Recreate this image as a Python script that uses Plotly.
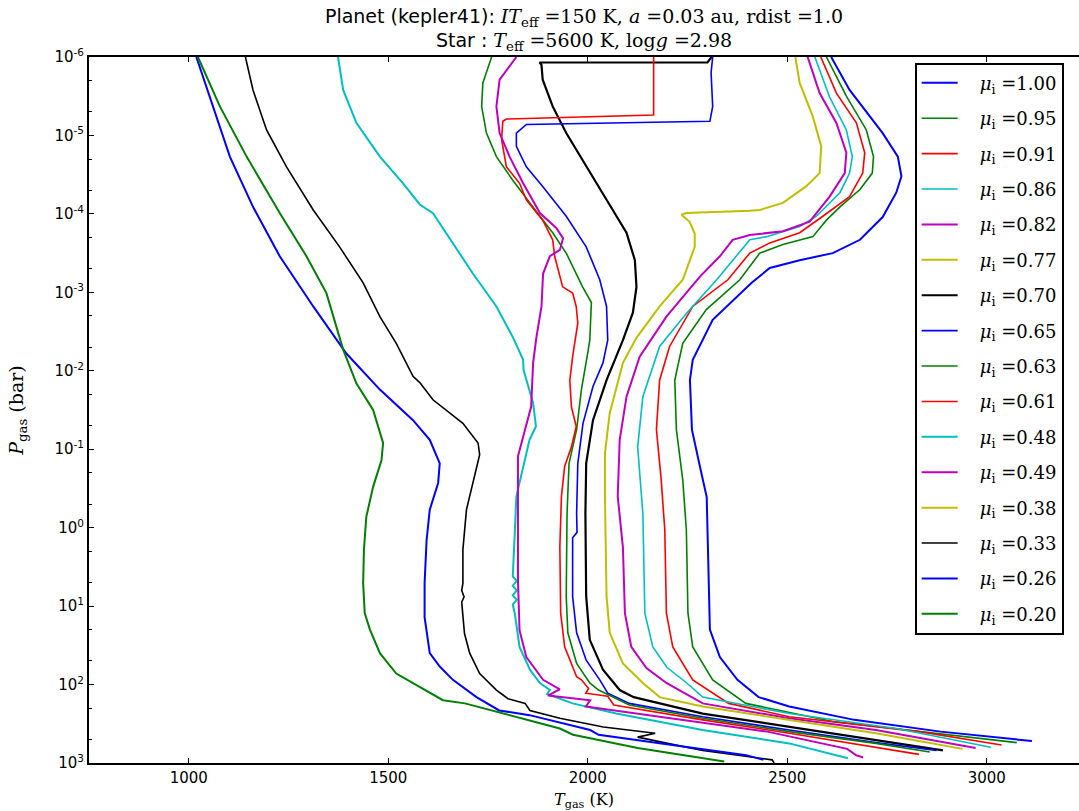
import plotly.graph_objects as go

# ---------------- data (temperature in K, log10 of pressure in bar) ----------------
mu_labels = ["1.00", "0.95", "0.91", "0.86", "0.82", "0.77", "0.70", "0.65",
             "0.63", "0.61", "0.48", "0.49", "0.38", "0.33", "0.26", "0.20"]

T_100 = [2610, 2656, 2739, 2777, 2786, 2773, 2739, 2682, 2614, 2531, 2456, 2410, 2313, 2263, 2256, 2261, 2281, 2298, 2301, 2306, 2331, 2375, 2428, 2505, 2668, 2884, 3113]
L_100 = [-6.0, -5.58, -5.03, -4.73, -4.48, -4.27, -3.96, -3.67, -3.50, -3.41, -3.31, -3.12, -2.65, -2.14, -1.88, -1.25, -0.78, -0.39, 0.24, 1.30, 1.65, 1.94, 2.16, 2.28, 2.45, 2.60, 2.72]

T_095 = [2598, 2648, 2698, 2716, 2713, 2682, 2632, 2598, 2564, 2489, 2431, 2406, 2381, 2297, 2238, 2218, 2222, 2238, 2247, 2251, 2263, 2313, 2396, 2614, 2830, 3075]
L_095 = [-6.0, -5.50, -5.07, -4.73, -4.52, -4.31, -4.09, -3.92, -3.71, -3.61, -3.50, -3.33, -3.16, -2.78, -2.35, -1.88, -1.25, -0.61, 0.03, 1.09, 1.52, 1.94, 2.24, 2.47, 2.60, 2.74]

T_091 = [2584, 2623, 2673, 2694, 2689, 2656, 2589, 2531, 2456, 2406, 2351, 2263, 2205, 2180, 2172, 2184, 2193, 2197, 2213, 2263, 2353, 2505, 2830, 3037]
L_091 = [-6.0, -5.54, -5.16, -4.78, -4.52, -4.22, -3.97, -3.76, -3.63, -3.50, -3.16, -2.82, -2.31, -1.88, -1.25, -0.61, 0.03, 1.09, 1.52, 1.94, 2.24, 2.41, 2.60, 2.77]

T_086 = [2569, 2606, 2648, 2663, 2656, 2632, 2573, 2531, 2448, 2406, 2323, 2247, 2180, 2138, 2125, 2138, 2143, 2163, 2198, 2248, 2288, 2505, 2773, 3010]
L_086 = [-6.0, -5.49, -5.07, -4.73, -4.52, -4.27, -3.97, -3.84, -3.71, -3.67, -3.16, -2.73, -2.31, -1.67, -1.03, -0.18, 1.09, 1.52, 1.78, 1.98, 2.16, 2.37, 2.56, 2.80]

T_082 = [2551, 2581, 2623, 2648, 2644, 2606, 2556, 2489, 2406, 2363, 2331, 2281, 2197, 2130, 2097, 2080, 2075, 2088, 2093, 2109, 2147, 2197, 2288, 2505, 2722, 2972]
L_082 = [-6.0, -5.54, -5.16, -4.78, -4.52, -4.22, -3.90, -3.78, -3.73, -3.67, -3.46, -3.20, -2.69, -2.18, -1.67, -1.12, -0.40, 0.25, 1.09, 1.52, 1.79, 1.98, 2.24, 2.43, 2.58, 2.81]

T_077 = [2520, 2531, 2564, 2585, 2581, 2547, 2489, 2431, 2406, 2247, 2235, 2255, 2268, 2268, 2238, 2180, 2122, 2088, 2055, 2043, 2043, 2047, 2055, 2088, 2138, 2180, 2288, 2505, 2722, 2939]
L_077 = [-6.0, -5.67, -5.24, -4.86, -4.52, -4.35, -4.14, -4.05, -4.04, -4.01, -3.99, -3.90, -3.75, -3.58, -3.16, -2.82, -2.42, -2.10, -1.46, -0.95, -0.40, 0.88, 1.34, 1.73, 1.98, 2.16, 2.28, 2.45, 2.62, 2.82]

T_070 = [2310, 2300, 1879, 1884, 1887, 1912, 1946, 1996, 2047, 2097, 2118, 2122, 2113, 2088, 2047, 2013, 1996, 1994, 1996, 2005, 2038, 2080, 2115, 2288, 2505, 2722, 2890]
L_070 = [-6.0, -5.93, -5.93, -5.90, -5.71, -5.37, -5.03, -4.60, -4.18, -3.76, -3.41, -3.07, -2.74, -2.39, -1.88, -1.37, -0.82, -0.18, 0.88, 1.43, 1.81, 2.07, 2.16, 2.37, 2.54, 2.71, 2.84]

T_065 = [2313, 2309, 2313, 2306, 1846, 1821, 1821, 1846, 1887, 1946, 1996, 2030, 2047, 2050, 2038, 2013, 1988, 1975, 1972, 1973, 1962, 1962, 1972, 1996, 2030, 2050, 2104, 2288, 2505, 2722, 2874]
L_065 = [-6.0, -5.80, -5.37, -5.18, -5.14, -5.03, -4.86, -4.60, -4.35, -3.97, -3.58, -3.16, -2.82, -2.39, -2.10, -1.80, -1.33, -0.82, -0.18, 0.06, 0.13, 0.88, 1.34, 1.69, 1.94, 2.11, 2.24, 2.41, 2.58, 2.74, 2.84]

T_063 = [1759, 1737, 1734, 1746, 1771, 1812, 1862, 1912, 1946, 1987, 2009, 2005, 2000, 1984, 1972, 1953, 1948, 1946, 1950, 1972, 2005, 2027, 2104, 2288, 2505, 2722, 2857]
L_063 = [-6.0, -5.67, -5.37, -5.03, -4.73, -4.43, -4.09, -3.76, -3.50, -3.07, -2.87, -2.39, -2.23, -1.76, -1.25, -0.82, -0.18, 0.88, 1.34, 1.73, 1.98, 2.07, 2.26, 2.43, 2.60, 2.75, 2.86]

T_061 = [2165, 2165, 1796, 1787, 1784, 1796, 1829, 1846, 1887, 1912, 1917, 1937, 1962, 1971, 1975, 1962, 1955, 1959, 1971, 1959, 1942, 1934, 1930, 1932, 1942, 1972, 1984, 2002, 1995, 2050, 2065, 2288, 2505, 2722, 2830]
L_061 = [-6.0, -5.26, -5.21, -5.18, -4.95, -4.60, -4.39, -4.18, -3.92, -3.67, -3.46, -3.07, -2.99, -2.82, -2.61, -2.18, -1.88, -1.54, -1.29, -1.03, -0.78, -0.40, 0.24, 1.09, 1.52, 1.90, 1.94, 2.05, 2.11, 2.15, 2.26, 2.45, 2.62, 2.80, 2.89]

T_048 = [1374, 1387, 1420, 1479, 1537, 1579, 1612, 1712, 1771, 1813, 1838, 1839, 1863, 1870, 1854, 1838, 1821, 1817, 1813, 1812, 1822, 1812, 1822, 1812, 1822, 1812, 1817, 1829, 1855, 1880, 1905, 1898, 1962, 2071, 2288, 2505, 2652]
L_048 = [-6.0, -5.58, -5.16, -4.73, -4.39, -4.12, -4.01, -3.24, -2.82, -2.42, -2.14, -2.01, -1.59, -1.29, -1.12, -0.78, -0.40, 0.07, 0.50, 0.62, 0.68, 0.74, 0.80, 0.86, 0.92, 0.98, 1.09, 1.52, 1.81, 1.98, 2.07, 2.12, 2.24, 2.37, 2.58, 2.75, 2.94]

T_049 = [1821, 1779, 1771, 1779, 1804, 1838, 1880, 1921, 1938, 1930, 1905, 1888, 1884, 1871, 1863, 1858, 1838, 1825, 1825, 1825, 1829, 1846, 1888, 1930, 1900, 2006, 1995, 2200, 2450, 2650, 2672, 2690]
L_049 = [-6.0, -5.71, -5.37, -5.03, -4.73, -4.39, -4.01, -3.82, -3.69, -3.54, -3.46, -3.24, -2.82, -2.42, -2.10, -1.54, -1.16, -0.91, -0.18, 0.67, 1.31, 1.65, 1.94, 2.06, 2.14, 2.20, 2.28, 2.42, 2.60, 2.82, 2.90, 2.93]

T_038 = []   # no profile visible for this case
L_038 = []

T_033 = [1142, 1161, 1195, 1245, 1312, 1378, 1437, 1479, 1520, 1562, 1579, 1612, 1687, 1725, 1729, 1712, 1696, 1687, 1687, 1684, 1690, 1684, 1691, 1704, 1729, 1771, 1800, 1843, 1855, 1930, 2039, 2169, 2125, 2200, 2288, 2462, 2467]
L_033 = [-6.0, -5.58, -5.07, -4.60, -4.05, -3.58, -3.12, -2.69, -2.35, -1.93, -1.85, -1.63, -1.33, -1.08, -0.93, -0.57, -0.23, 0.28, 0.71, 0.80, 0.88, 0.95, 1.35, 1.60, 1.86, 2.07, 2.18, 2.24, 2.33, 2.43, 2.54, 2.62, 2.67, 2.75, 2.84, 2.96, 3.0]

T_026 = [1019, 1061, 1103, 1161, 1228, 1312, 1395, 1479, 1562, 1604, 1629, 1625, 1604, 1596, 1591, 1591, 1604, 1629, 1662, 1721, 1778, 1854, 2006, 2027, 2180, 2397, 2440]
L_026 = [-6.0, -5.37, -4.73, -4.09, -3.46, -2.82, -2.22, -1.76, -1.37, -1.12, -0.82, -0.57, -0.23, 0.16, 0.71, 1.14, 1.60, 1.77, 1.94, 2.16, 2.33, 2.39, 2.58, 2.64, 2.75, 2.90, 2.96]

T_020 = [1023, 1078, 1145, 1228, 1295, 1345, 1387, 1420, 1462, 1483, 1487, 1483, 1462, 1445, 1439, 1437, 1441, 1454, 1479, 1520, 1579, 1637, 1692, 1832, 1930, 1963, 2125, 2342]
L_020 = [-6.0, -5.37, -4.73, -4.01, -3.46, -2.99, -2.27, -1.84, -1.50, -1.16, -1.08, -0.86, -0.52, -0.14, 0.28, 0.71, 1.09, 1.30, 1.60, 1.86, 2.03, 2.20, 2.24, 2.43, 2.56, 2.64, 2.81, 2.98]

T_all = [T_100, T_095, T_091, T_086, T_082, T_077, T_070, T_065,
         T_063, T_061, T_048, T_049, T_038, T_033, T_026, T_020]
L_all = [L_100, L_095, L_091, L_086, L_082, L_077, L_070, L_065,
         L_063, L_061, L_048, L_049, L_038, L_033, L_026, L_020]

y_exponents = [-6, -5, -4, -3, -2, -1, 0, 1, 2, 3]

# ---------------- styling ----------------
colors = ["#0000ff", "#008000", "#ff0000", "#00bfbf", "#bf00bf", "#bfbf00", "#000000"]
widths = [2.0, 1.6, 1.6, 1.6, 2.0, 2.0, 2.2, 1.6, 1.6, 1.6, 2.0, 2.0, 2.0, 1.6, 2.0, 2.0]
SERIF = "DejaVu Serif"
SANS = "DejaVu Sans"
NB = "\u00a0"

fig = go.Figure()
for i, (lab, T, L) in enumerate(zip(mu_labels, T_all, L_all)):
    xs = T if T else [None]
    ys = [10 ** v for v in L] if L else [None]
    fig.add_trace(go.Scatter(
        x=xs, y=ys, mode="lines",
        name=NB * 3 + "<i>μ</i><sub>i</sub> =" + lab,
        legendgroup="g%d" % i,
        line=dict(color=colors[i % 7], width=widths[i]),
    ))

title_txt = ('Planet (kepler41): <span style="font-family:DejaVu Serif"><i>IT</i><sub>eff</sub> =150 K, '
             '<i>a</i> =0.03 au, rdist =1.0</span><br>'
             'Star : <span style="font-family:DejaVu Serif"><i>T</i><sub>eff</sub> =5600 K, log<i>g</i> =2.98</span>')

fig.update_layout(
    width=1079, height=811,
    margin=dict(l=89, r=0, t=57, b=48),
    paper_bgcolor="white", plot_bgcolor="white",
    showlegend=True,
    title=dict(text=title_txt, x=0.5, xref="paper", y=0.972, yref="container", yanchor="top",
               font=dict(family=SANS, size=19, color="black")),
    legend=dict(x=0.834, y=0.992, xanchor="left", yanchor="top",
                bgcolor="white", bordercolor="black", borderwidth=2,
                font=dict(family=SERIF, size=18, color="black"),
                tracegroupgap=9, itemwidth=36),
    xaxis=dict(range=[750, 3231], tickvals=[1000, 1500, 2000, 2500, 3000],
               ticks="inside", ticklen=5, tickcolor="black", showgrid=False, zeroline=False,
               showline=True, linecolor="black", linewidth=2, mirror="ticks",
               tickfont=dict(family=SANS, size=15, color="black"),
               title=dict(text="<i>T</i><sub>gas</sub> (K)", standoff=8,
                          font=dict(family=SERIF, size=16, color="black"))),
    yaxis=dict(type="log", range=[3, -6],
               tickvals=[10 ** e for e in y_exponents],
               ticktext=["10<sup>%d</sup>" % e for e in y_exponents],
               ticks="inside", ticklen=5, tickcolor="black", showgrid=False, zeroline=False,
               showline=True, linecolor="black", linewidth=2, mirror=False,
               minor=dict(ticks="inside", ticklen=3, tickcolor="black", showgrid=False),
               tickfont=dict(family=SANS, size=15, color="black"),
               title=dict(text="<i>P</i><sub>gas</sub> (bar)", standoff=26,
                          font=dict(family=SERIF, size=19, color="black"))),
)

fig.write_html("out.html")
